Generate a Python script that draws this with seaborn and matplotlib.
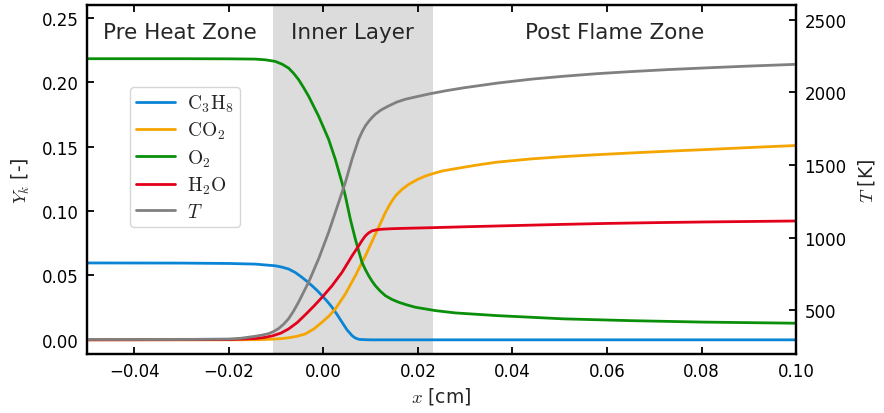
import numpy as np
import pandas as pd
import matplotlib
matplotlib.use("Agg")
import matplotlib.pyplot as plt
import seaborn as sns

# Flame structure: species mass fractions (left axis) and temperature (right axis)
x_c3h8 = [-0.050, -0.030, -0.020, -0.01439, -0.01016, -0.0088, -0.00734, -0.0059, -0.00451,
          -0.0035, -0.0024, -0.0013, -0.00028, 0.0008, 0.00184, 0.0029, 0.00395, 0.0050,
          0.00607, 0.0066, 0.0071, 0.0076, 0.0082, 0.0090, 0.0100, 0.0200, 0.0600, 0.1000]
y_c3h8 = [0.0597, 0.0596, 0.0593, 0.0588, 0.0575, 0.0565, 0.0550, 0.0522, 0.0485,
          0.0455, 0.0420, 0.0383, 0.0343, 0.0300, 0.0253, 0.0197, 0.0137, 0.0078,
          0.0033, 0.0018, 0.0009, 0.0004, 0.0002, 0.0001, 0.0000, 0.0000, 0.0000, 0.0000]

x_co2 = [-0.050, -0.020, -0.01439, -0.0109, -0.0090, -0.00734, -0.0055, -0.00381, -0.0020,
         -0.00028, 0.0012, 0.00254, 0.00466, 0.00677, 0.00889, 0.01101, 0.01312, 0.0142,
         0.01524, 0.0166, 0.01805, 0.0198, 0.02159, 0.0235, 0.02512, 0.02794, 0.0305, 0.0330,
         0.0368, 0.0440, 0.0509, 0.0580, 0.0650, 0.0730, 0.0812, 0.0900, 0.1000]
y_co2 = [0.0000, 0.0000, 0.0001, 0.0005, 0.0009, 0.0016, 0.0028, 0.0046, 0.0085,
         0.0137, 0.0185, 0.0240, 0.0356, 0.0498, 0.0652, 0.0820, 0.0988, 0.1060,
         0.1117, 0.1167, 0.1207, 0.1243, 0.1272, 0.1294, 0.1311, 0.1329, 0.1345, 0.1360,
         0.1380, 0.1405, 0.1423, 0.1438, 0.1451, 0.1465, 0.1478, 0.1493, 0.1509]

x_o2 = [-0.050, -0.030, -0.020, -0.01439, -0.0122, -0.01016, -0.0087, -0.00734, -0.0063,
        -0.00522, -0.0042, -0.0031, -0.00099, 0.00113, 0.00254, 0.00395, 0.0043, 0.00466,
        0.00571, 0.00677, 0.00818, 0.0089, 0.00959, 0.0103, 0.01101, 0.0120, 0.01312, 0.0145,
        0.01594, 0.0177, 0.01947, 0.02370, 0.02794, 0.0368, 0.0508, 0.0650, 0.0800, 0.1000]
y_o2 = [0.2183, 0.2183, 0.2182, 0.2180, 0.2174, 0.2162, 0.2140, 0.2110, 0.2070,
        0.2020, 0.1960, 0.1891, 0.1736, 0.1556, 0.1401, 0.1220, 0.1170, 0.1117,
        0.0937, 0.0782, 0.0601, 0.0545, 0.0498, 0.0456, 0.0420, 0.0380, 0.0343, 0.0314,
        0.0292, 0.0271, 0.0253, 0.0227, 0.0209, 0.0188, 0.0163, 0.0149, 0.0138, 0.0129]

x_h2o = [-0.050, -0.020, -0.01439, -0.0126, -0.01086, -0.0090, -0.00734, -0.0055, -0.00381,
         -0.0020, -0.00028, 0.00184, 0.00395, 0.00607, 0.00748, 0.0082, 0.00889, 0.0096,
         0.01030, 0.0112, 0.01242, 0.0145, 0.01735, 0.0230, 0.0300, 0.0400, 0.0500, 0.0600,
         0.0700, 0.0800, 0.0900, 0.1000]
y_h2o = [0.0000, 0.0002, 0.0010, 0.0018, 0.0030, 0.0052, 0.0085, 0.0135, 0.0195,
         0.0262, 0.0330, 0.0420, 0.0524, 0.0652, 0.0730, 0.0772, 0.0807, 0.0831,
         0.0846, 0.0854, 0.0859, 0.0863, 0.0866, 0.0871, 0.0878, 0.0887, 0.0896, 0.0904,
         0.0910, 0.0915, 0.0919, 0.0923]

x_temp = [-0.050, -0.030, -0.020, -0.0175, -0.01439, -0.0130, -0.01157, -0.0105, -0.00946,
          -0.0084, -0.00734, -0.0063, -0.00522, -0.00310, -0.00099, 0.00113, 0.00325,
          0.00466, 0.00607, 0.00748, 0.0082, 0.00889, 0.0096, 0.0103, 0.01101, 0.0122,
          0.01383, 0.0155, 0.01735, 0.0198, 0.0226, 0.0262, 0.0300, 0.0368, 0.0440, 0.0508,
          0.0580, 0.0650, 0.0730, 0.0812, 0.0900, 0.1000]
y_temp = [300, 300, 303, 308, 322, 330, 340, 355, 375,
          405, 443, 495, 558, 695, 855, 1038, 1243,
          1380, 1540, 1677, 1728, 1769, 1800, 1826, 1849, 1878,
          1906, 1932, 1952, 1970, 1990, 2012, 2032, 2063, 2090, 2110,
          2128, 2142, 2156, 2168, 2180, 2192]

species = [r"$\mathrm{C_3H_8}$", r"$\mathrm{CO_2}$", r"$\mathrm{O_2}$", r"$\mathrm{H_2O}$"]
species_x = [x_c3h8, x_co2, x_o2, x_h2o]
species_y = [y_c3h8, y_co2, y_o2, y_h2o]
colors = ["#0a84d4", "#f5a500", "#0a8f0a", "#e3001b", "#808080"]

zones = ["Pre Heat Zone", "Inner Layer", "Post Flame Zone"]
zone_edges = [-0.050, -0.0106, 0.0231, 0.100]

sns.set_theme(style="ticks")
plt.rcParams["font.family"] = ["DejaVu Sans"]
plt.rcParams["mathtext.fontset"] = "cm"
plt.rcParams["axes.unicode_minus"] = True

fig = plt.figure(figsize=(8.84, 4.14), dpi=100)
ax = fig.add_axes([0.0984, 0.1425, 0.8021, 0.843])
ax2 = ax.twinx()

ax.axvspan(zone_edges[1], zone_edges[2], color="#dcdcdc", lw=0, zorder=0)

handles = []
for name, xs, ys, c in zip(species, species_x, species_y, colors):
    df = pd.DataFrame({"x": xs, "y": ys})
    sns.lineplot(data=df, x="x", y="y", ax=ax, color=c, lw=2, legend=False)
    handles.append(ax.lines[-1])

df_t = pd.DataFrame({"x": x_temp, "T": y_temp})
sns.lineplot(data=df_t, x="x", y="T", ax=ax2, color=colors[4], lw=2, legend=False)
handles.append(ax2.lines[-1])

for ln in handles:
    ln.set_solid_joinstyle("round")

ax.set_xlim(-0.05, 0.10)
ax.set_ylim(-0.011, 0.26)
ax2.set_ylim(200, 2600)
ax.set_xticks([-0.04, -0.02, 0.00, 0.02, 0.04, 0.06, 0.08, 0.10])
ax.set_xticklabels([f"{v:.2f}".replace("-", "\u2212") for v in ax.get_xticks()])
ax.set_yticks([0.00, 0.05, 0.10, 0.15, 0.20, 0.25])
ax.set_yticklabels([f"{v:.2f}" for v in ax.get_yticks()])
ax2.set_yticks([500, 1000, 1500, 2000, 2500])

ax.set_xlabel(r"$x$ [cm]", fontsize=13.5, labelpad=3)
ax.set_ylabel(r"$Y_k$ [-]", fontsize=13.5, labelpad=7)
ax2.set_ylabel(r"$T$ [K]", fontsize=13.5, labelpad=7)

for a in (ax, ax2):
    for s in a.spines.values():
        s.set_linewidth(1.6)
        s.set_color("black")
    a.tick_params(direction="in", length=5, width=1.3, labelsize=12, colors="black")
ax.tick_params(axis="x", top=True, pad=6)
ax.tick_params(axis="y", pad=6)
ax2.tick_params(axis="y", pad=6)

for label, lo, hi in zip(zones, zone_edges[:-1], zone_edges[1:]):
    ax.text((lo + hi) / 2, 0.923, label, transform=ax.get_xaxis_transform(),
            ha="center", va="center", fontsize=15.5)

labels = species + [r"$T$"]
ax2.legend(handles, labels, loc="upper left", bbox_to_anchor=(0.0606, 0.765),
           borderaxespad=0, fontsize=14, handlelength=2.0, handletextpad=0.65,
           borderpad=0.3, labelspacing=0.3, frameon=True, fancybox=True,
           edgecolor="#cccccc", framealpha=0.8)

fig.savefig("out.png", dpi=100)
